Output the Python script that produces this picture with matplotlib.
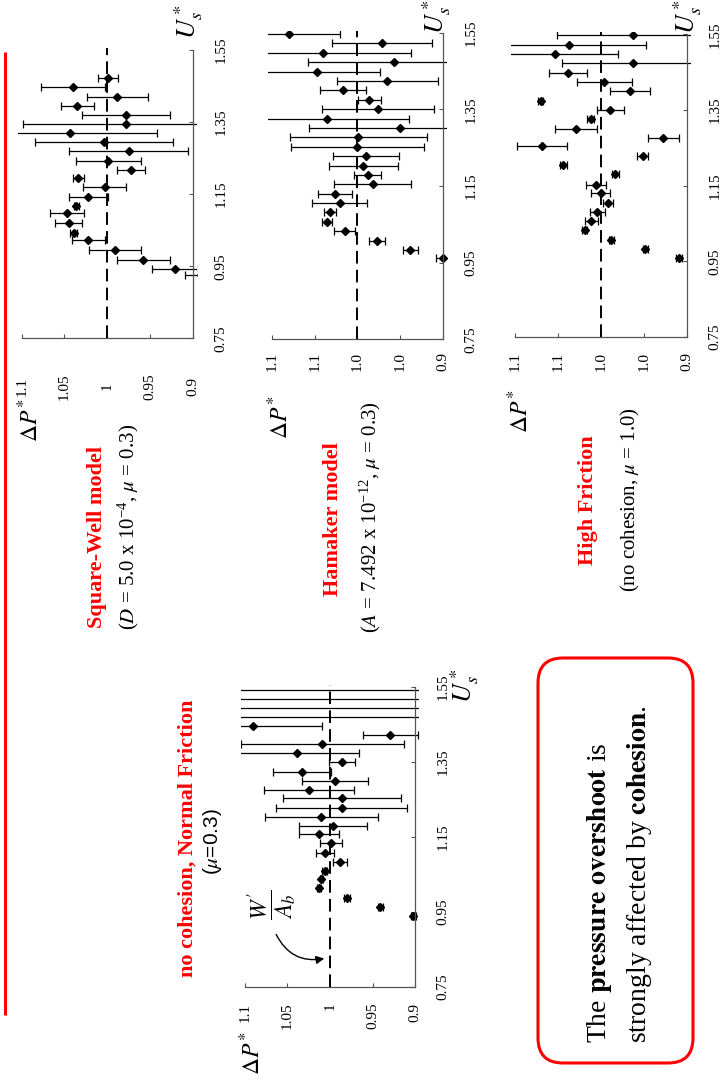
import matplotlib
matplotlib.use("Agg")
import matplotlib.pyplot as plt
from matplotlib.patches import FancyBboxPatch, FancyArrowPatch

plt.rcParams['font.family'] = ['Liberation Serif', 'DejaVu Serif']
plt.rcParams['mathtext.fontset'] = 'stix'

# ---- data (U_s*, dP*, error half-width) ----
u_sw = [1.471, 1.446, 1.420, 1.395, 1.371, 1.345, 1.319, 1.296, 1.270, 1.243, 1.217, 1.194,
        1.169, 1.141, 1.117, 1.097, 1.071, 1.043, 1.023, 0.995, 0.966, 0.941, 0.926]
dp_sw = [0.999, 1.040, 0.988, 1.035, 0.978, 0.978, 1.044, 1.004, 0.975, 0.999, 0.972, 1.034,
         1.003, 1.022, 1.036, 1.047, 1.045, 1.039, 1.022, 0.991, 0.958, 0.921, 0.890]
err_sw = [0.012, 0.038, 0.036, 0.019, 0.052, 0.121, 0.102, 0.081, 0.070, 0.038, 0.016, 0.0065,
          0.025, 0.023, 0.003, 0.020, 0.016, 0.004, 0.019, 0.030, 0.031, 0.027, 0.019]

u_hm = [1.547, 1.522, 1.497, 1.473, 1.448, 1.424, 1.400, 1.375, 1.350, 1.326, 1.301, 1.277, 1.253,
        1.228, 1.203, 1.179, 1.155, 1.130, 1.106, 1.081, 1.057, 1.032, 1.007, 0.983, 0.961]
dp_hm = [1.080, 0.971, 1.040, 0.957, 1.048, 0.965, 1.017, 0.986, 0.976, 1.036, 0.950, 0.999, 1.000,
         0.990, 0.993, 0.988, 0.982, 1.026, 1.021, 1.032, 1.036, 1.015, 0.977, 0.938, 0.900]
err_hm = [0.060, 0.059, 0.103, 0.101, 0.074, 0.059, 0.027, 0.013, 0.066, 0.096, 0.107, 0.080, 0.078,
          0.039, 0.041, 0.016, 0.045, 0.020, 0.032, 0.007, 0.0055, 0.012, 0.009, 0.009, 0.008]

u_hf = [1.547, 1.522, 1.498, 1.473, 1.449, 1.424, 1.400, 1.375, 1.350, 1.326, 1.301, 1.276, 1.254,
        1.229, 1.204, 1.181, 1.153, 1.130, 1.105, 1.080, 1.056, 1.032, 1.007, 0.983, 0.958]
dp_hf = [0.963, 1.037, 1.053, 0.962, 1.038, 0.996, 0.966, 1.070, 0.989, 1.012, 1.029, 0.927, 1.069,
         0.951, 1.044, 0.983, 1.006, 1.000, 0.992, 1.004, 1.011, 1.019, 0.988, 0.948, 0.909]
err_hf = [0.088, 0.090, 0.073, 0.083, 0.022, 0.032, 0.023, 0.003, 0.016, 0.004, 0.024, 0.018, 0.029,
          0.0065, 0.004, 0.004, 0.0115, 0.011, 0.006, 0.009, 0.008, 0.0025, 0.003, 0.003, 0.004]

u_nf = [1.541, 1.516, 1.492, 1.468, 1.445, 1.421, 1.396, 1.374, 1.350, 1.323, 1.299, 1.274, 1.252,
        1.227, 1.203, 1.178, 1.156, 1.132, 1.107, 1.082, 1.059, 1.036, 1.012, 0.986, 0.963, 0.938]
dp_nf = [1.2, 1.2, 1.2, 1.2, 1.091, 0.929, 1.009, 1.039, 0.986, 1.033, 0.994, 1.025, 0.986,
         0.986, 1.010, 0.996, 1.013, 0.999, 1.006, 0.988, 1.006, 1.010, 1.013, 0.980, 0.941, 0.902]
err_nf = [0.4, 0.4, 0.4, 0.4, 0.082, 0.032, 0.096, 0.073, 0.015, 0.034, 0.039, 0.053, 0.069,
          0.077, 0.066, 0.040, 0.024, 0.013, 0.011, 0.008, 0.003, 0.002, 0.002, 0.003, 0.003, 0.003]

u_ticks = [0.75, 0.95, 1.15, 1.35, 1.55]
u_labels = ['0.75', '0.95', '1.15', '1.35', '1.55']
dp_ticks = [1.1, 1.05, 1.0, 0.95, 0.9]
dp_labels_fine = ['1.1', '1.05', '1', '0.95', '0.9']
dp_labels_round = ['1.1', '1.1', '1.0', '1.0', '0.9']

W, H = 723, 1083
fig = plt.figure(figsize=(W / 100, H / 100), dpi=100)


def add_panel(box, u, dp, err, dp_labels, pad, va):
    left, top, right, bottom = box
    ax = fig.add_axes([left / W, 1 - bottom / H, (right - left) / W, (bottom - top) / H])
    ax.patch.set_visible(False)
    ax.axvline(1.0, color='k', lw=1.4, dashes=(6.5, 3.2))
    ax.errorbar(dp, u, xerr=err, fmt='D', color='k', ms=4.2, elinewidth=0.9,
                capsize=2.8, capthick=0.9)
    ax.set_xlim(1.1047, 0.8953)
    ax.set_ylim(0.75, 1.555)
    for s in ['top', 'left']:
        ax.spines[s].set_visible(False)
    ax.spines['right'].set_position(('data', 0.9))
    ax.spines['right'].set_bounds(0.75, 1.55)
    ax.spines['bottom'].set_bounds(0.9, 1.1)
    for s in ['right', 'bottom']:
        ax.spines[s].set_color('#555555')
        ax.spines[s].set_linewidth(0.9)
    ax.yaxis.set_ticks_position('right')
    ax.set_yticks(u_ticks, labels=u_labels)
    ax.set_xticks(dp_ticks, labels=dp_labels)
    ax.tick_params(direction='in', length=3, width=0.8, color='#555555', labelsize=11)
    ax.tick_params(axis='y', labelrotation=90, pad=15.5)
    ax.tick_params(axis='x', labelrotation=90, pad=pad)
    for lbl in ax.get_yticklabels():
        lbl.set_va('center')
    for lbl in ax.get_xticklabels():
        lbl.set_va(va)
    return ax


add_panel((17.7, 48.2, 196.7, 338.3), u_sw, dp_sw, err_sw, dp_labels_fine, 34.5, 'center')
add_panel((268.3, 30.8, 446.7, 339.3), u_hm, dp_hm, err_hm, dp_labels_round, 9, 'top')
add_panel((511.0, 32.4, 690.7, 337.0), u_hf, dp_hf, err_hf, dp_labels_round, 11, 'top')
add_panel((241.0, 684.8, 419.0, 986.7), u_nf, dp_nf, err_nf, dp_labels_fine, 11.5, 'top')

# overlay in pixel units for the slide decorations
ov = fig.add_axes([0, 0, 1, 1], zorder=10)
ov.set_xlim(0, W)
ov.set_ylim(H, 0)
ov.axis('off')
ov.patch.set_visible(False)

ov.plot([5, 5], [52, 1015], color='red', lw=2.2, solid_capstyle='butt')

red = '#ff0000'
kw = dict(rotation=90, ha='center', va='center')
ov.text(97, 537, 'Square-Well model', color=red, fontweight='bold', fontsize=16, **kw)
ov.text(128, 527, r'($D$ = 5.0 x $\mathregular{10^{-4}}$, $\mu$ = 0.3)', fontsize=15, **kw)
ov.text(333, 519, 'Hamaker model', color=red, fontweight='bold', fontsize=16, **kw)
ov.text(370, 517, r'($A$ = 7.492 x $\mathregular{10^{-12}}$, $\mu$ = 0.3)', fontsize=15, **kw)
ov.text(588, 500, 'High Friction', color=red, fontweight='bold', fontsize=16, **kw)
ov.text(630, 500, r'(no cohesion, $\mu$ = 1.0)', fontsize=15, **kw)
ov.text(188, 838, 'no cohesion, Normal Friction', color=red, fontweight='bold', fontsize=16, **kw)
ov.text(212, 842, r'($\mu$=0.3)', fontsize=15, family=['Liberation Sans', 'DejaVu Sans'], **kw)

for x, y in [(30, 420), (280, 417), (520, 411), (252, 1053)]:
    ov.text(x, y, r'$\Delta P^{*}$', fontsize=17, **kw)
for x, y in [(189, 22), (437, 17), (688, 17), (465, 686)]:
    ov.text(x, y, r'$U_s^*$', fontsize=19, **kw)

ov.text(272, 905, r"$\dfrac{W'}{A_b}$", fontsize=17, **kw)
ov.add_patch(FancyArrowPatch((275, 932), (327, 958), connectionstyle='arc3,rad=0.4',
                             arrowstyle='-|>', mutation_scale=12, lw=1, color='k'))

ov.add_patch(FancyBboxPatch((538, 658), 155, 405, boxstyle='round,pad=0,rounding_size=25',
                            ec=red, fc='none', lw=2.2))
ov.text(600, 1043, r'The $\mathbf{pressure\ overshoot}$ is', fontsize=20,
        rotation=90, ha='center', va='bottom')
ov.text(640, 1043, r'strongly affected by $\mathbf{cohesion}$.', fontsize=20,
        rotation=90, ha='center', va='bottom')

fig.savefig('out.png', dpi=100)
